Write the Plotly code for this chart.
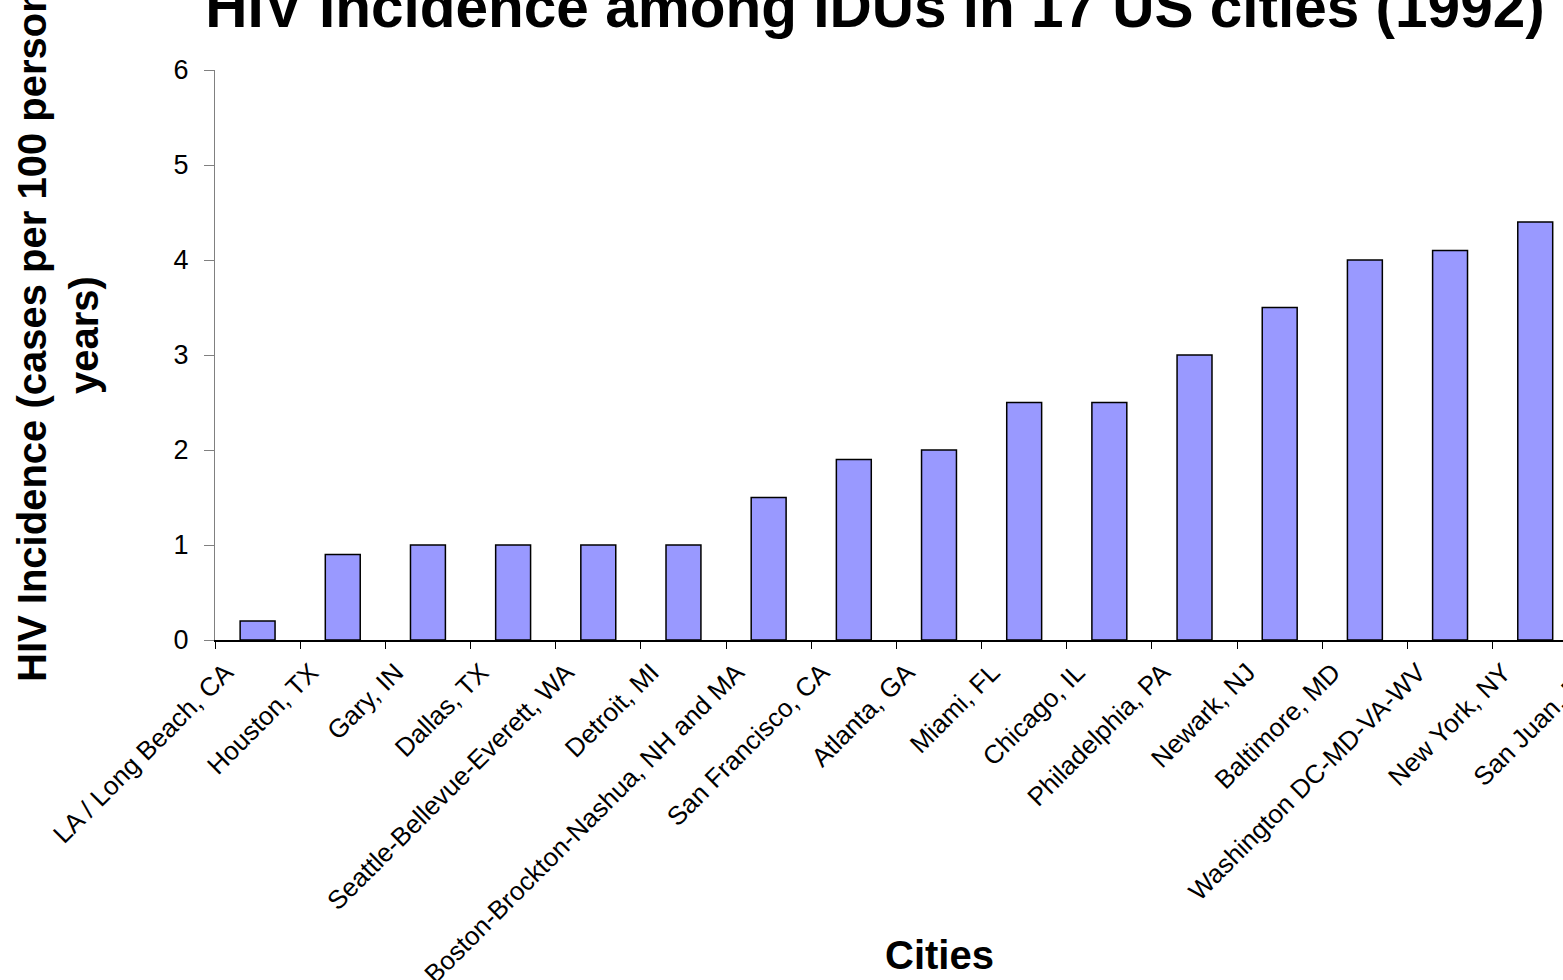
import plotly.graph_objects as go

cities = [
    "LA / Long Beach, CA", "Houston, TX", "Gary, IN", "Dallas, TX",
    "Seattle-Bellevue-Everett, WA", "Detroit, MI",
    "Boston-Brockton-Nashua, NH and MA", "San Francisco, CA", "Atlanta, GA",
    "Miami, FL", "Chicago, IL", "Philadelphia, PA", "Newark, NJ",
    "Baltimore, MD", "Washington DC-MD-VA-WV", "New York, NY", "San Juan, PR",
]
incidence = [0.2, 0.9, 1.0, 1.0, 1.0, 1.0, 1.5, 1.9, 2.0, 2.5, 2.5, 3.0, 3.5,
             4.0, 4.1, 4.4, 5.3]
y_ticks = [0, 1, 2, 3, 4, 5, 6]

title_text = "HIV Incidence among IDUs in 17 US cities (1992)"
x_title = "Cities"
y_title = "HIV Incidence (cases per 100 person<br>years)"

FONT = "Arial, Liberation Sans, sans-serif"
W, H = 1670, 980

fig = go.Figure(
    go.Bar(
        x=cities,
        y=incidence,
        marker=dict(color="#9999FF", line=dict(color="black", width=1.5)),
    )
)

fig.update_layout(
    width=W,
    height=H,
    margin=dict(l=215, r=7, t=70, b=340, autoexpand=False),
    paper_bgcolor="white",
    plot_bgcolor="white",
    bargap=0.59,
    showlegend=False,
    title=dict(
        text="<b>" + title_text + "</b>",
        font=dict(family=FONT, size=58.5, color="black"),
        x=875 / W,
        xref="container",
        xanchor="center",
        y=1 - 7 / H,
        yref="container",
        yanchor="middle",
        automargin=False,
    ),
    font=dict(family=FONT, color="black"),
)

fig.update_xaxes(
    type="category",
    range=[-0.5, len(cities) - 0.5],
    automargin=False,
    tickson="boundaries",
    ticks="outside",
    ticklen=7,
    tickwidth=1,
    tickcolor="black",
    showline=True,
    linecolor="black",
    linewidth=1.5,
    showgrid=False,
    tickangle=-45,
    ticklabelshift=-32,
    ticklabelstandoff=5,
    tickfont=dict(family=FONT, size=26, color="black"),
)

fig.update_yaxes(
    range=[0, 6],
    tickvals=y_ticks,
    automargin=False,
    ticks="outside",
    ticklen=10,
    tickcolor="#808080",
    showline=True,
    linecolor="#808080",
    linewidth=1,
    showgrid=False,
    zeroline=False,
    ticklabelstandoff=10,
    tickfont=dict(family=FONT, size=27, color="black"),
)

fig.add_annotation(
    text="<b>" + x_title + "</b>",
    xref="paper", yref="paper",
    x=0.5, y=(640 - 955) / 570,
    xanchor="center", yanchor="middle",
    showarrow=False,
    font=dict(family=FONT, size=40, color="black"),
)

fig.add_annotation(
    text="<b>" + y_title + "</b>",
    xref="paper", yref="paper",
    x=(58 - 215) / 1448, y=(640 - 335) / 570,
    xanchor="center", yanchor="middle",
    textangle=-90,
    showarrow=False,
    font=dict(family=FONT, size=40, color="black"),
)

fig.write_html(
    "out.html",
    post_script="document.documentElement.style.overflow='hidden';document.body.style.overflow='hidden';",
)
